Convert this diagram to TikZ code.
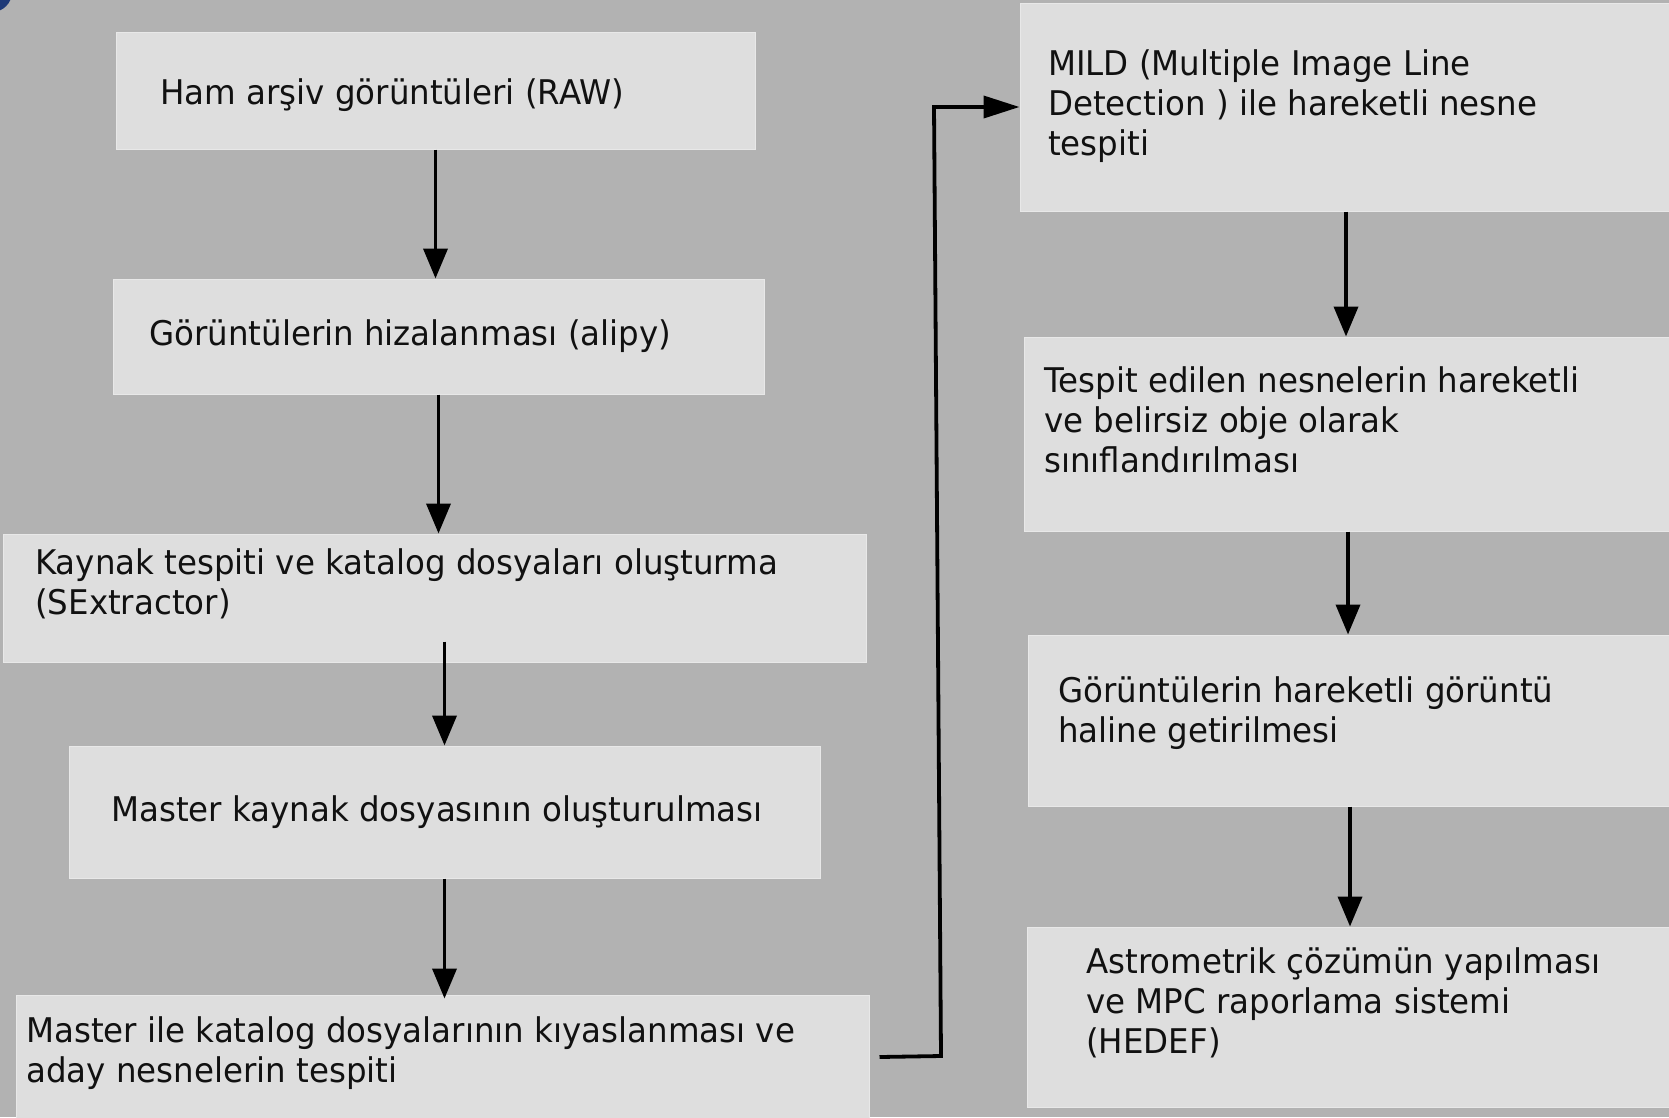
\documentclass[tikz,border=0pt]{standalone}
\usepackage{fontspec}
\setmainfont{DejaVu Sans}[FakeStretch=0.955]
\usetikzlibrary{arrows.meta}
\definecolor{bg}{HTML}{B2B2B2}
\definecolor{boxfill}{HTML}{DEDEDE}
\definecolor{boxline}{HTML}{E8E8E8}
\definecolor{corner}{HTML}{1E3A78}
\definecolor{txt}{HTML}{111111}
\tikzset{
  box/.style={draw=boxline, line width=1pt, fill=boxfill, inner sep=0pt},
  lbl/.style={anchor=north west, inner sep=0pt, align=left, text=txt, font=\fontsize{34}{40}\selectfont},
  arr/.style={draw=black, line width=3.8pt, -{Triangle[length=30pt,width=24pt]}}
}
\begin{document}
\begin{tikzpicture}[x=1pt,y=-1pt]
\useasboundingbox (0,0) rectangle (1669,1117);
\fill[bg] (0,0) rectangle (1669,1117);
\fill[corner] (-8,-8) circle (20);
% left column boxes
\node[box, minimum width=639pt, minimum height=117pt] (b1) at (435.5,90.5) {};
\node[box, minimum width=651pt, minimum height=115pt] (b2) at (438.5,336.5) {};
\node[box, minimum width=863pt, minimum height=128pt] (b3) at (434.5,598) {};
\node[box, minimum width=751pt, minimum height=132pt] (b4) at (444.5,812) {};
\node[box, minimum width=853pt, minimum height=124pt] (b5) at (442.5,1057) {};
% right column boxes
\node[box, minimum width=652pt, minimum height=208pt] (b6) at (1346,107) {};
\node[box, minimum width=648pt, minimum height=194pt] (b7) at (1348,434) {};
\node[box, minimum width=644pt, minimum height=171pt] (b8) at (1350,720.5) {};
\node[box, minimum width=645pt, minimum height=180pt] (b9) at (1349.5,1017) {};
% texts
\node[lbl] (t1) at (160,78) {Ham arşiv görüntüleri (RAW)};
\node[lbl] (t2) at (149,319) {Görüntülerin hizalanması (alipy)};
\node[lbl] (t3) at (35,548) {Kaynak tespiti ve katalog dosyaları oluşturma\\(SExtractor)};
\node[lbl] (t4) at (111,795) {Master kaynak dosyasının oluşturulması};
\node[lbl] (t5) at (26,1016) {Master ile katalog dosyalarının kıyaslanması ve\\aday nesnelerin tespiti};
\node[lbl] (t6) at (1048,49) {MILD (Multiple Image Line\\Detection ) ile hareketli nesne\\tespiti};
\node[lbl] (t7) at (1044,366) {Tespit edilen nesnelerin hareketli\\ve belirsiz obje olarak\\sınıflandırılması};
\node[lbl] (t8) at (1058,676) {Görüntülerin hareketli görüntü\\haline getirilmesi};
\node[lbl] (t9) at (1086,947) {Astrometrik çözümün yapılması\\ve MPC raporlama sistemi\\(HEDEF)};
% connectors
\draw[arr] (b1.south) -- (b1.south |- b2.north);
\draw[arr] (b2.south) -- (b2.south |- b3.north);
\draw[arr] ([yshift=21pt]b4.north |- b3.south) -- (b4.north);
\draw[arr] (b4.south) -- ([yshift=-4pt]b4.south |- b5.north);
\coordinate (k1) at (941,1056);
\coordinate (k2) at (934,107);
\draw[arr, -{Triangle[length=36pt,width=22pt]}] ([xshift=10pt]b5.east) -- (k1) -- (k2) -- (b6.west);
\draw[arr] (b6.south) -- (b6.south |- b7.north);
\draw[arr] (b7.south) -- (b7.south |- b8.north);
\draw[arr] (b8.south) -- (b8.south |- b9.north);
\end{tikzpicture}
\end{document}
